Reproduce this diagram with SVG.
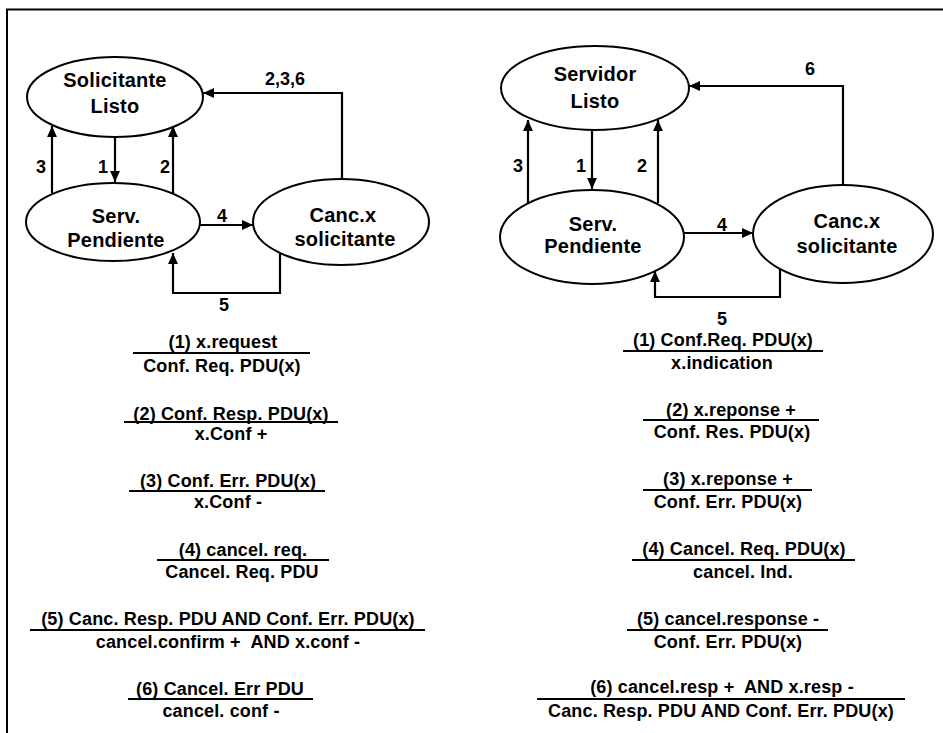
<svg xmlns="http://www.w3.org/2000/svg" width="943" height="733" viewBox="0 0 943 733">
<style>
.n ellipse{fill:#fff;stroke:#000;stroke-width:2}
text{font-family:"Liberation Sans",Arial,sans-serif;font-weight:bold;fill:#000;text-anchor:middle}
.nt{font-size:20px;letter-spacing:0.2px}
.lb{font-size:18px}
.tx{font-size:18px;letter-spacing:0.15px;white-space:pre}
.c path{fill:none;stroke:#000;stroke-width:2.2}
.ul line{stroke:#000;stroke-width:2}
.fr{stroke:#000;stroke-width:2;fill:none}
</style>
<defs>
<marker id="ah" viewBox="0 0 10 9" refX="10" refY="4.5" markerWidth="11" markerHeight="10" markerUnits="userSpaceOnUse" orient="auto">
<path d="M0,0 L10,4.5 L0,9 z" fill="#000"/>
</marker>
</defs>
<rect width="943" height="733" fill="#fff"/>
<path class="fr" d="M7,733 V9.5 H943"/>

<g id="solicitante-listo" class="n"><ellipse cx="115" cy="97" rx="88" ry="40"/><text class="nt" x="115" y="87">Solicitante</text><text class="nt" x="115" y="113">Listo</text></g>
<g id="serv-pendiente-l" class="n"><ellipse cx="113" cy="222" rx="87" ry="39"/><text class="nt" x="116" y="223">Serv.</text><text class="nt" x="116" y="247">Pendiente</text></g>
<g id="canc-solicitante-l" class="n"><ellipse cx="341" cy="222" rx="88" ry="43"/><text class="nt" x="343" y="222">Canc.x</text><text class="nt" x="345" y="246">solicitante</text></g>

<g id="servidor-listo" class="n"><ellipse cx="595" cy="88" rx="94" ry="42"/><text class="nt" x="595" y="81">Servidor</text><text class="nt" x="595" y="108">Listo</text></g>
<g id="serv-pendiente-r" class="n"><ellipse cx="592" cy="237" rx="92" ry="47"/><text class="nt" x="593" y="231">Serv.</text><text class="nt" x="593" y="253">Pendiente</text></g>
<g id="canc-solicitante-r" class="n"><ellipse cx="843" cy="234" rx="90" ry="49"/><text class="nt" x="847" y="228">Canc.x</text><text class="nt" x="847" y="253">solicitante</text></g>

<g id="connectors" class="c">
<path d="M52,193 V126" marker-end="url(#ah)"/>
<path d="M115,137 V182" marker-end="url(#ah)"/>
<path d="M173,193 V126" marker-end="url(#ah)"/>
<path d="M200,225 H253" marker-end="url(#ah)"/>
<path d="M342,180 V93 H203" marker-end="url(#ah)"/>
<path d="M280,254 V293 H173 V253" marker-end="url(#ah)"/>
<path d="M528,203 V120" marker-end="url(#ah)"/>
<path d="M592,131 V189" marker-end="url(#ah)"/>
<path d="M658,203 V120" marker-end="url(#ah)"/>
<path d="M684,233 H753" marker-end="url(#ah)"/>
<path d="M843,185 V86 H689" marker-end="url(#ah)"/>
<path d="M780,269 V297 H655 V271" marker-end="url(#ah)"/>
</g>
<g id="connector-labels">
<text class="lb" x="41" y="173">3</text>
<text class="lb" x="103" y="173">1</text>
<text class="lb" x="165" y="173">2</text>
<text class="lb" x="222" y="222">4</text>
<text class="lb" x="285" y="85">2,3,6</text>
<text class="lb" x="224" y="311">5</text>
<text class="lb" x="518" y="172">3</text>
<text class="lb" x="581" y="172">1</text>
<text class="lb" x="642" y="172">2</text>
<text class="lb" x="722" y="231">4</text>
<text class="lb" x="810" y="75">6</text>
<text class="lb" x="722" y="325">5</text>
</g>

<g id="legend-left">
<g class="ul">
<line x1="133" y1="353" x2="310" y2="353"/>
<line x1="124" y1="422" x2="338" y2="422"/>
<line x1="129" y1="491" x2="325" y2="491"/>
<line x1="157" y1="560" x2="329" y2="560"/>
<line x1="30" y1="630" x2="425" y2="630"/>
<line x1="128" y1="699" x2="313" y2="699"/>
</g>
<text class="tx" x="223" y="348">(1) x.request</text>
<text class="tx" x="222" y="372">Conf. Req. PDU(x)</text>
<text class="tx" x="231" y="420">(2) Conf. Resp. PDU(x)</text>
<text class="tx" x="231" y="440">x.Conf +</text>
<text class="tx" x="228" y="487">(3) Conf. Err. PDU(x)</text>
<text class="tx" x="228" y="508">x.Conf -</text>
<text class="tx" x="243" y="556">(4) cancel. req.</text>
<text class="tx" x="242" y="578">Cancel. Req. PDU</text>
<text class="tx" x="228" y="625">(5) Canc. Resp. PDU AND Conf. Err. PDU(x)</text>
<text class="tx" x="228" y="648">cancel.confirm +  AND x.conf -</text>
<text class="tx" x="220" y="695">(6) Cancel. Err PDU</text>
<text class="tx" x="221" y="717">cancel. conf -</text>
</g>

<g id="legend-right">
<g class="ul">
<line x1="623" y1="351" x2="823" y2="351"/>
<line x1="643" y1="420" x2="819" y2="420"/>
<line x1="643" y1="490" x2="812" y2="490"/>
<line x1="632" y1="560" x2="855" y2="560"/>
<line x1="627" y1="630" x2="828" y2="630"/>
<line x1="537" y1="699" x2="905" y2="699"/>
</g>
<text class="tx" x="723" y="346">(1) Conf.Req. PDU(x)</text>
<text class="tx" x="722" y="369">x.indication</text>
<text class="tx" x="731" y="416">(2) x.reponse +</text>
<text class="tx" x="732" y="438">Conf. Res. PDU(x)</text>
<text class="tx" x="728" y="485">(3) x.reponse +</text>
<text class="tx" x="728" y="508">Conf. Err. PDU(x)</text>
<text class="tx" x="744" y="555">(4) Cancel. Req. PDU(x)</text>
<text class="tx" x="743" y="578">cancel. Ind.</text>
<text class="tx" x="728" y="625">(5) cancel.response -</text>
<text class="tx" x="728" y="648">Conf. Err. PDU(x)</text>
<text class="tx" x="722" y="693">(6) cancel.resp +  AND x.resp -</text>
<text class="tx" x="721" y="717">Canc. Resp. PDU AND Conf. Err. PDU(x)</text>
</g>
</svg>
